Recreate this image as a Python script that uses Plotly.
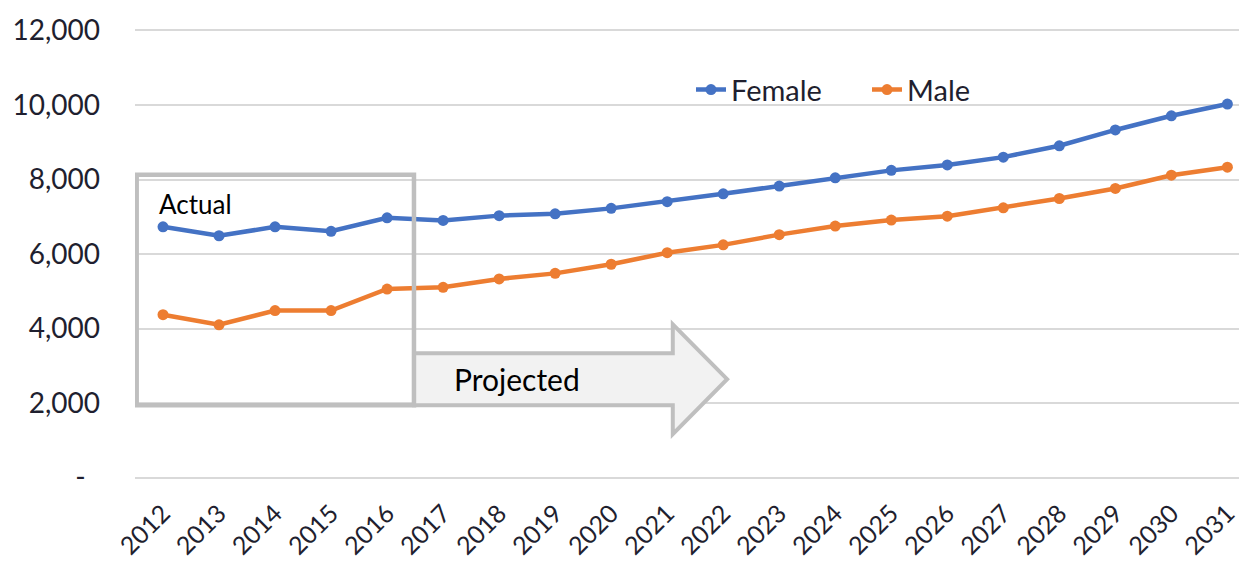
import plotly.graph_objects as go

years = list(range(2012, 2032))
year_labels = [str(y) for y in years]
female = [6730, 6490, 6730, 6610, 6970, 6900, 7030, 7080, 7225, 7405,
          7615, 7825, 8045, 8245, 8390, 8600, 8905, 9330, 9710, 10025]
male = [4370, 4100, 4480, 4480, 5060, 5105, 5330, 5480, 5725, 6035,
        6245, 6520, 6750, 6910, 7015, 7240, 7490, 7760, 8115, 8330]
y_ticks = [0, 2000, 4000, 6000, 8000, 10000, 12000]
y_tick_text = ["-\u00a0\u00a0", "2,000", "4,000", "6,000", "8,000", "10,000", "12,000"]

FONT = "Lato"
TXT = "#1f1f2f"
fig = go.Figure()
fig.add_trace(go.Scatter(x=years, y=female, name="Female", mode="lines+markers",
                         line=dict(color="#4472C4", width=4.5),
                         marker=dict(size=11, color="#4472C4")))
fig.add_trace(go.Scatter(x=years, y=male, name="Male", mode="lines+markers",
                         line=dict(color="#ED7D31", width=4.5),
                         marker=dict(size=11, color="#ED7D31")))

# Projected arrow
fig.add_shape(type="path", xref="x", yref="y", layer="above",
              path="M 2016.48,3335 L 2021.10,3335 L 2021.10,4112 L 2022.07,2639 "
                   "L 2021.10,1165 L 2021.10,1942 L 2016.48,1942 Z",
              fillcolor="#F2F2F2", line=dict(color="#BFBFBF", width=4))
# Actual box
fig.add_shape(type="rect", xref="x", yref="y", layer="above",
              x0=2011.53, x1=2016.48, y0=1942, y1=8130,
              line=dict(color="#BFBFBF", width=4.5))

fig.add_annotation(x=2011.9, y=7330, xref="x", yref="y", text="Actual",
                   showarrow=False, xanchor="left", yanchor="middle",
                   font=dict(family=FONT, size=26, color="#000000"))
fig.add_annotation(x=2017.15, y=2640, xref="x", yref="y", text="Projected",
                   showarrow=False, xanchor="left", yanchor="middle",
                   font=dict(family=FONT, size=30, color="#000000"))

fig.update_layout(
    width=1239, height=555,
    margin=dict(l=127, r=0, t=21, b=84, autoexpand=False),
    paper_bgcolor="white", plot_bgcolor="white",
    font=dict(family=FONT, color=TXT),
    legend=dict(orientation="h", x=0.5, y=0.865, xanchor="left", yanchor="middle",
                font=dict(family=FONT, size=29, color=TXT),
                bgcolor="rgba(0,0,0,0)", entrywidth=131, entrywidthmode="pixels"),
    showlegend=True,
)
fig.update_xaxes(range=[2011.5, 2031.35], tickmode="array", tickvals=years,
                 ticktext=year_labels, tickangle=-45, showgrid=False,
                 zeroline=False, showline=False, ticks="", automargin=False,
                 ticklabelstandoff=14,
                 tickfont=dict(family=FONT, size=25, color=TXT))
fig.update_yaxes(range=[-40, 12040], tickmode="array", tickvals=y_ticks,
                 ticktext=y_tick_text, showgrid=True, gridcolor="#D9D9D9",
                 gridwidth=1.5, zeroline=False, showline=False, ticks="",
                 ticklabelstandoff=34, automargin=False,
                 tickfont=dict(family=FONT, size=28, color=TXT))

fig.write_html("out.html")
